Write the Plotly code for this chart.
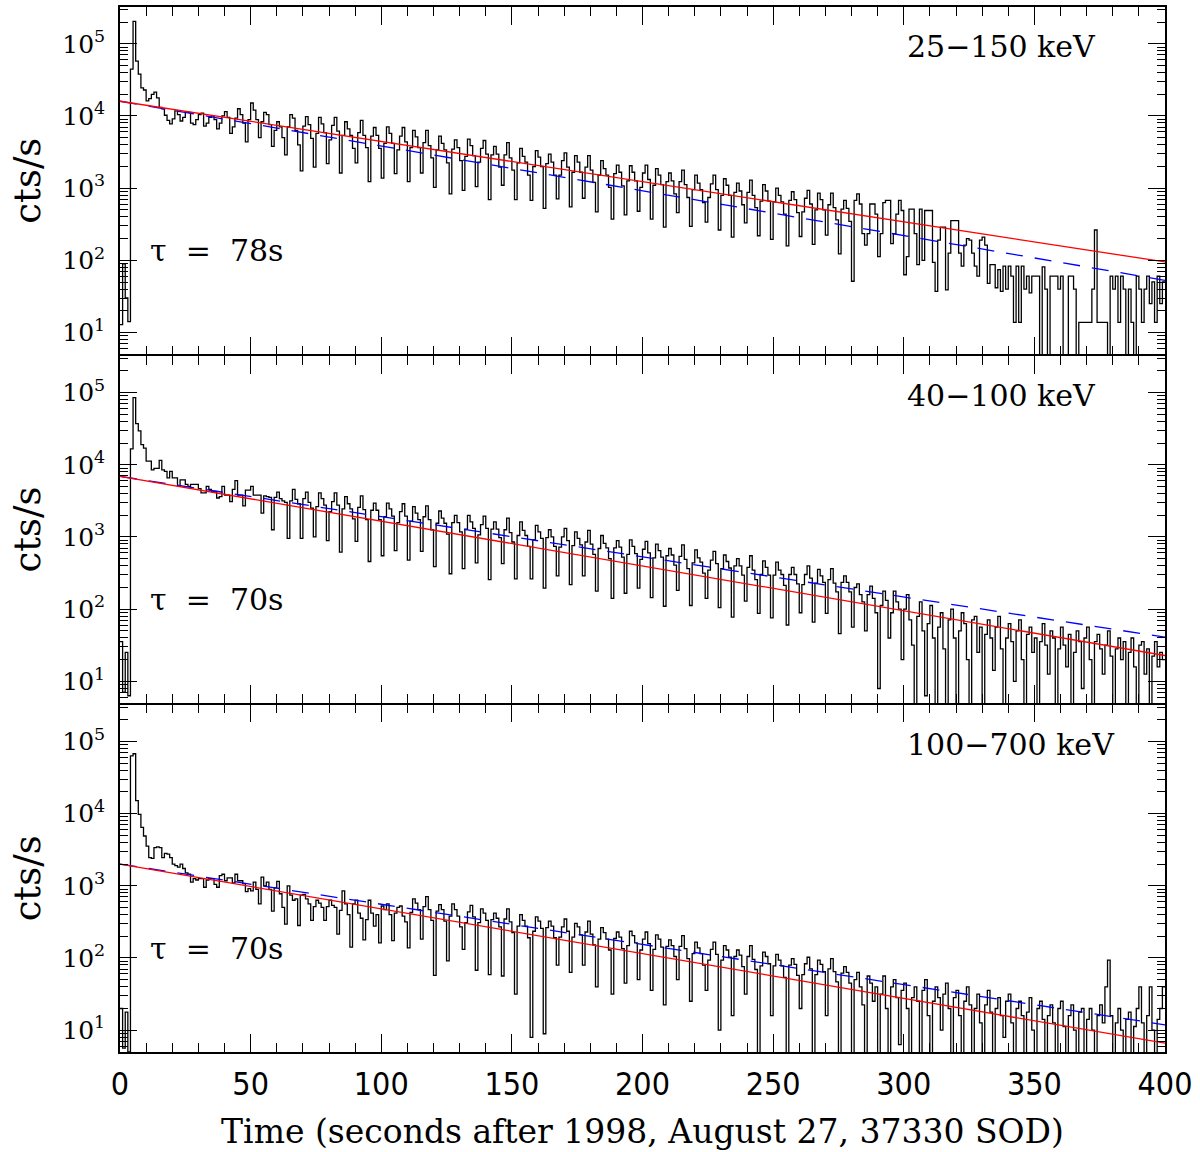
import numpy as np
import plotly.graph_objects as go

# ---------------- data ----------------
band_labels = ["25\u2212150 keV", "40\u2212100 keV", "100\u2212700 keV"]
tau_labels = ["\u03c4  =  78s", "\u03c4  =  70s", "\u03c4  =  70s"]

bin_width_s = 1.0  # histogram bin width in seconds

# log10(cts/s) per 1-s bin, t = 0 .. 399 s
log_rate_25_150 = [
    1.11, 1.95, 1.48, 1.15, 4.65, 5.31, 4.76, 4.58, 4.39, 4.36,
    4.21, 4.24, 4.30, 4.33, 4.25, 4.12, 4.10, 4.01, 3.94, 3.89,
    3.96, 4.07, 4.02, 3.93, 3.98, 4.06, 4.05, 3.90, 3.88, 3.95,
    4.02, 4.04, 3.86, 3.90, 3.98, 4.00, 3.95, 3.82, 3.90, 4.00,
    4.06, 3.98, 3.76, 3.85, 3.97, 4.10, 4.02, 3.90, 3.64, 3.95,
    4.18, 4.08, 3.95, 3.70, 3.92, 4.05, 4.02, 3.88, 3.58, 3.80,
    3.92, 3.85, 3.70, 3.46, 3.85, 4.02, 3.97, 3.80, 3.60, 3.24,
    3.86, 3.99, 3.88, 3.69,
    3.29, 3.76, 3.98, 3.89, 3.77,
    3.34, 3.67, 3.87, 3.98, 3.79,
    3.21, 3.73, 3.92, 3.82, 3.73, 3.55,
    3.35, 3.77, 3.94, 3.73, 3.56,
    3.09, 3.72, 3.84, 3.73, 3.55,
    3.14, 3.62, 3.85, 3.76, 3.62,
    3.20, 3.53, 3.72, 3.84, 3.64,
    3.09, 3.56, 3.80, 3.71, 3.56,
    3.21, 3.63, 3.80, 3.59, 3.42,
    3.01, 3.53, 3.72, 3.62, 3.53, 3.35,
    2.92, 3.54, 3.67, 3.56, 3.38,
    2.97, 3.44, 3.68, 3.59, 3.45,
    3.02, 3.36, 3.55, 3.66, 3.47,
    2.84, 3.46, 3.58, 3.47, 3.29,
    3.04, 3.46, 3.63, 3.42, 3.25,
    2.84, 3.35, 3.55, 3.44, 3.36, 3.18,
    2.83, 3.30, 3.52, 3.43, 3.30,
    2.72, 3.34, 3.47, 3.36, 3.18,
    2.85, 3.18, 3.38, 3.49, 3.29,
    2.74, 3.22, 3.45, 3.36, 3.22,
    2.86, 3.29, 3.45, 3.25, 3.08,
    2.67, 3.18, 3.38, 3.27, 3.18, 3.01,
    2.57, 3.20, 3.32, 3.22, 3.03,
    2.63, 3.10, 3.31, 3.22, 3.10,
    2.68, 3.01, 3.21, 3.32, 3.12,
    2.57, 3.04, 3.27, 3.18, 3.05,
    2.46, 3.09, 3.21, 3.10, 2.92,
    2.66, 3.09, 3.25, 3.05, 2.87,
    2.47, 2.98, 3.18, 3.07, 2.98, 2.80,
    2.53, 2.87, 3.06, 3.18, 2.98,
    2.42, 2.90, 3.13, 3.04, 2.90,
    2.32, 2.94, 3.07, 2.96, 2.77,
    2.52, 2.94, 3.11, 2.90, 2.73,
    2.34, 2.82, 3.05, 2.96, 2.82,
    2.29, 2.81, 3.00, 2.90, 2.81, 2.64,
    2.20, 2.83, 2.95, 2.84, 2.66,
    2.33, 2.67, 2.86, 2.97, 2.78,
    2.22, 2.70, 2.93, 2.84, 2.70,
    2.35, 2.77, 2.93, 2.73, 2.56,
    2.09, 2.71, 2.83, 2.72, 2.54,
    1.71, 2.83, 2.92, 2.78, 2.37, 2.21, 2.37, 2.78, 2.78, 2.64,
    2.05, 2.37, 2.80, 2.83, 2.83, 2.23, 2.37, 2.64, 2.83, 2.69,
    1.80, 2.05, 2.71, 2.71, 2.37, 1.94, 2.71, 2.00, 2.69, 2.69,
    2.69, 1.97, 1.57, 2.28, 2.46, 2.46, 1.59, 2.10, 2.55, 2.55,
    2.55, 2.10, 1.92, 2.21, 2.30, 2.28, 2.10, 1.92, 1.78, 2.28,
    2.32, 2.21, 1.68, 1.94, 1.94, 1.62, 1.87, 1.57, 1.92, 1.60,
    1.92, 1.78, 1.14, 1.92, 1.14, 1.92, 1.60, 1.78, 1.55, 1.78,
    1.78, 1.78, 0.40, 1.91, 1.60, 0.40, 1.78, 1.78, 1.78, 1.60,
    1.78, 0.40, 0.40, 1.78, 1.78, 1.60, 0.40, 1.14, 1.14, 1.14,
    1.14, 1.14, 1.60, 2.42, 1.14, 1.14, 1.14, 1.14, 0.40, 1.78,
    1.60, 1.78, 1.14, 1.78, 1.60, 0.40, 1.60, 1.14, 0.40, 1.78,
    1.60, 1.14, 1.60, 1.78, 1.40, 1.70, 1.14, 1.78, 1.40, 1.70,
]

log_rate_40_100 = [
    1.55, 0.85, 1.40, 0.80, 4.22, 4.93, 4.57, 4.47, 4.28, 4.23,
    4.05, 4.05, 3.93, 3.95, 3.95, 4.06, 3.93, 3.91, 3.82, 3.91,
    3.82, 3.82, 3.71, 3.79, 3.79, 3.73, 3.70, 3.73, 3.73, 3.73,
    3.67, 3.61, 3.61, 3.70, 3.66, 3.63, 3.63, 3.54, 3.56, 3.70,
    3.58, 3.58, 3.49, 3.66, 3.78, 3.58, 3.58, 3.43, 3.65, 3.65,
    3.70, 3.58, 3.58, 3.58, 3.33, 3.57, 3.56, 3.55, 3.10, 3.55,
    3.62, 3.53, 3.50, 3.48, 2.98, 3.50, 3.66, 3.52, 3.46, 2.98,
    3.53, 3.62, 3.48, 3.40,
    3.00, 3.42, 3.61, 3.53, 3.44,
    2.95, 3.35, 3.49, 3.61, 3.44,
    2.79, 3.39, 3.56, 3.46, 3.39, 3.25,
    2.94, 3.41, 3.57, 3.38, 3.24,
    2.66, 3.37, 3.47, 3.37, 3.24,
    2.74, 3.28, 3.47, 3.39, 3.29,
    2.81, 3.20, 3.35, 3.46, 3.29,
    2.68, 3.22, 3.42, 3.33, 3.24,
    2.80, 3.28, 3.43, 3.24, 3.10,
    2.59, 3.19, 3.36, 3.26, 3.19, 3.04,
    2.49, 3.20, 3.30, 3.20, 3.07,
    2.56, 3.11, 3.30, 3.21, 3.12,
    2.64, 3.03, 3.17, 3.29, 3.12,
    2.41, 3.11, 3.21, 3.11, 2.99,
    2.63, 3.10, 3.26, 3.06, 2.93,
    2.42, 3.02, 3.21, 3.09, 3.02, 2.87,
    2.42, 2.96, 3.16, 3.07, 2.98,
    2.29, 2.99, 3.10, 3.00, 2.87,
    2.46, 2.86, 3.00, 3.12, 2.95,
    2.34, 2.88, 3.07, 2.98, 2.89,
    2.46, 2.93, 3.09, 2.90, 2.76,
    2.25, 2.84, 3.02, 2.91, 2.85, 2.70,
    2.15, 2.85, 2.95, 2.86, 2.72,
    2.22, 2.76, 2.96, 2.87, 2.77,
    2.29, 2.69, 2.83, 2.94, 2.78,
    2.16, 2.71, 2.90, 2.81, 2.72,
    2.04, 2.74, 2.84, 2.75, 2.61,
    2.26, 2.73, 2.89, 2.69, 2.56,
    2.05, 2.64, 2.82, 2.71, 2.65, 2.50,
    2.15, 2.54, 2.68, 2.80, 2.63,
    2.02, 2.56, 2.75, 2.66, 2.57,
    1.89, 2.60, 2.70, 2.60, 2.47,
    2.11, 2.58, 2.74, 2.54, 2.41,
    1.94, 2.48, 2.67, 2.58, 2.47,
    1.88, 2.47, 2.65, 2.54, 2.48, 2.33,
    1.78, 2.48, 2.58, 2.48, 2.35,
    1.95, 2.34, 2.48, 2.60, 2.43,
    1.82, 2.36, 2.55, 2.46, 2.37,
    1.94, 2.41, 2.56, 2.36, 2.24,
    1.66, 2.37, 2.46, 2.37, 2.24,
    1.75, 2.30, 2.35, 2.20, 2.10, 1.70, 2.20, 2.32, 2.15, 1.95,
    0.90, 2.05, 2.25, 2.12, 1.60, 1.95, 2.25, 2.10, 2.00, 1.30,
    2.00, 2.20, 1.85, 1.50, 0.50, 1.90, 2.10, 1.70, 0.80, 1.80,
    2.05, 1.60, 0.50, 1.75, 1.95, 1.45, 0.50, 1.85, 2.00, 1.60,
    0.50, 1.70, 1.95, 1.80, 1.30, 0.50, 1.85, 1.90, 1.40, 1.75,
    0.50, 1.65, 1.85, 1.60, 1.15, 1.75, 1.90, 1.45, 0.50, 1.60,
    1.80, 1.55, 1.00, 1.70, 1.85, 1.30, 0.50, 1.65, 1.75, 1.40,
    1.60, 0.50, 1.55, 1.80, 1.50, 1.10, 1.70, 1.60, 0.50, 1.45,
    1.75, 1.50, 1.20, 1.65, 0.50, 1.40, 1.70, 1.55, 0.90, 1.60,
    1.75, 1.30, 0.50, 1.55, 1.65, 1.45, 1.10, 1.50, 1.70, 1.35,
    0.50, 1.45, 1.60, 1.30, 1.55, 0.50, 1.40, 1.60, 1.20, 0.50,
    1.50, 1.55, 1.10, 1.45, 0.50, 1.35, 1.55, 1.20, 1.40, 1.30,
]

log_rate_100_700 = [
    1.30, 0.75, 1.25, 0.70, 4.80, 4.83, 4.18, 3.99, 3.81, 3.69,
    3.55, 3.39, 3.38, 3.53, 3.54, 3.53, 3.39, 3.45, 3.44, 3.39,
    3.30, 3.28, 3.26, 3.30, 3.24, 3.18, 3.16, 3.05, 3.10, 3.08,
    3.10, 3.10, 2.98, 3.08, 3.10, 3.10, 3.02, 2.98, 3.14, 3.16,
    3.07, 3.11, 3.11, 3.04, 3.16, 3.07, 3.07, 3.03, 2.92, 2.96,
    2.93, 3.05, 2.95, 2.75, 3.12, 3.00, 3.05, 2.95, 2.65, 2.97,
    3.06, 2.89, 2.70, 2.47, 3.00, 2.87, 2.80, 2.82, 2.45, 2.87,
    2.88, 2.82, 2.75, 2.52, 2.71, 2.80, 2.76, 2.70, 2.52, 2.71,
    2.80, 2.73, 2.70, 2.33, 2.66, 2.93, 2.75, 2.60, 2.15, 2.75,
    2.80, 2.62, 2.55, 2.25, 2.53, 2.80, 2.62, 2.44, 2.60, 2.21,
    2.72, 2.67, 2.75, 2.60, 2.24, 2.62, 2.70, 2.72, 2.58, 2.50,
    2.14, 2.63, 2.82, 2.76, 2.67,
    2.26, 2.71, 2.85, 2.67, 2.52,
    1.76, 2.65, 2.74, 2.67, 2.51,
    1.96, 2.58, 2.75, 2.67, 2.58, 2.43,
    2.12, 2.49, 2.64, 2.73, 2.57,
    1.83, 2.49, 2.68, 2.62, 2.52,
    1.77, 2.53, 2.62, 2.55, 2.43,
    1.75, 2.54, 2.68, 2.50, 2.35,
    1.50, 2.44, 2.60, 2.52, 2.44, 2.28,
    0.90, 2.37, 2.57, 2.51, 2.41,
    0.95, 2.42, 2.51, 2.44, 2.28,
    1.90, 2.29, 2.43, 2.54, 2.37,
    1.80, 2.29, 2.48, 2.43, 2.32,
    1.90, 2.36, 2.51, 2.33, 2.18,
    1.60, 2.26, 2.42, 2.35, 2.26, 2.11,
    1.50, 2.27, 2.36, 2.29, 2.13,
    1.65, 2.17, 2.37, 2.31, 2.21,
    1.70, 2.11, 2.26, 2.36, 2.20,
    1.55, 2.12, 2.32, 2.26, 2.15,
    1.35, 2.16, 2.25, 2.17, 2.02,
    1.70, 2.16, 2.31, 2.13, 1.99,
    1.40, 2.06, 2.22, 2.14, 2.06, 1.90,
    1.55, 1.97, 2.12, 2.22, 2.05,
    1.00, 1.97, 2.17, 2.11, 2.01,
    1.20, 2.02, 2.11, 2.04, 1.88,
    1.50, 2.02, 2.17, 1.98, 1.84,
    0.50, 1.89, 2.08, 2.02, 1.92,
    1.20, 1.89, 2.05, 1.97, 1.89, 1.73,
    0.50, 1.90, 1.99, 1.91, 1.76,
    1.30, 1.77, 1.92, 2.01, 1.85,
    0.50, 1.77, 1.97, 1.91, 1.81,
    1.20, 1.85, 1.99, 1.81, 1.67,
    0.50, 1.79, 1.88, 1.80, 1.65,
    0.50, 1.70, 1.80, 1.60, 1.35, 0.50, 1.75, 1.65, 1.40, 1.60,
    0.50, 1.50, 1.75, 1.30, 0.50, 1.60, 1.70, 1.45, 0.80, 1.55,
    1.65, 1.30, 0.50, 1.45, 1.60, 1.40, 0.50, 1.55, 1.70, 1.20,
    0.50, 1.40, 1.60, 1.45, 1.00, 1.50, 1.65, 1.30, 0.50, 1.45,
    1.55, 1.20, 0.50, 1.40, 1.60, 1.35, 0.50, 1.30, 1.50, 1.10,
    0.50, 1.35, 1.55, 1.25, 0.50, 1.30, 1.45, 1.20, 0.90, 1.40,
    1.50, 1.10, 0.50, 1.30, 1.40, 1.20, 0.50, 1.25, 1.45, 1.00,
    0.50, 1.30, 1.40, 1.15, 0.50, 1.20, 1.35, 1.10, 0.50, 1.30,
    1.40, 1.05, 0.50, 1.20, 1.35, 1.00, 0.50, 1.25, 1.30, 0.50,
    1.15, 1.30, 1.00, 0.50, 1.20, 1.35, 1.10, 1.60, 1.97, 1.20,
    0.50, 1.10, 1.30, 1.00, 0.50, 1.15, 1.25, 0.50, 1.05, 1.30,
    1.60, 1.10, 0.50, 1.20, 1.60, 1.00, 0.50, 1.15, 1.30, 1.60,
]

# exponential decay fits: rate = norm * exp(-t / tau)
fit_norm = [1.6e4, 6.9e3, 2.0e3]
tau_red = [78.0, 70.0, 70.0]
tau_blue = [70.0, 78.0, 78.0]
fit_t = [0.0, 400.0]

x_tickvals = [0, 50, 100, 150, 200, 250, 300, 350, 400]
y_tickvals = [1e1, 1e2, 1e3, 1e4, 1e5]
y_ticktext = ["10<sup>1</sup>", "10<sup>2</sup>", "10<sup>3</sup>",
              "10<sup>4</sup>", "10<sup>5</sup>"]

panels = [log_rate_25_150, log_rate_40_100, log_rate_100_700]
for p in panels:
    assert len(p) == 400, len(p)

# ---------------- figure ----------------
SERIF = "DejaVu Serif, Liberation Serif, serif"
SANS_N = "Liberation Sans Narrow, DejaVu Sans Condensed, Liberation Sans, sans-serif"

PLOT_H = 1152 - 5 - 100
gap = 1.5 / PLOT_H          # lets shared panel borders coincide
h = (1.0 - 2 * gap) / 3.0
domains = [[2 * h + 2 * gap, 1.0], [h + gap, 2 * h + gap], [0.0, h]]

fig = go.Figure()
layout_axes = {}
for i, logr in enumerate(panels):
    k = i + 1
    xa = "x" if k == 1 else f"x{k}"
    ya = "y" if k == 1 else f"y{k}"
    rates = list(10.0 ** np.array(logr))
    edges = list(np.arange(len(rates) + 1) * bin_width_s)
    fig.add_trace(go.Scatter(
        x=edges, y=rates + [rates[-1]], mode="lines", line_shape="hv",
        line=dict(color="black", width=1.3), showlegend=False,
        hoverinfo="skip", xaxis=xa, yaxis=ya))
    red_y = [fit_norm[i] * np.exp(-t / tau_red[i]) for t in fit_t]
    blue_y = [fit_norm[i] * np.exp(-t / tau_blue[i]) for t in fit_t]
    fig.add_trace(go.Scatter(
        x=fit_t, y=blue_y, mode="lines",
        line=dict(color="#0000ff", width=1.3, dash="17px,12px"),
        showlegend=False, hoverinfo="skip", xaxis=xa, yaxis=ya))
    fig.add_trace(go.Scatter(
        x=fit_t, y=red_y, mode="lines",
        line=dict(color="#ff0000", width=1.3),
        showlegend=False, hoverinfo="skip", xaxis=xa, yaxis=ya))

    fig.add_annotation(x=0.751, y=0.885, xref=f"{xa} domain",
                       yref=f"{ya} domain", text=band_labels[i],
                       showarrow=False, xanchor="left", yanchor="middle",
                       font=dict(family=SERIF, size=30, color="black"))
    fig.add_annotation(x=0.027, y=0.298, xref=f"{xa} domain",
                       yref=f"{ya} domain", text=tau_labels[i],
                       showarrow=False, xanchor="left", yanchor="middle",
                       font=dict(family=SERIF, size=30, color="black"))

    xkey = "xaxis" if k == 1 else f"xaxis{k}"
    ykey = "yaxis" if k == 1 else f"yaxis{k}"
    layout_axes[ykey] = dict(
        domain=domains[i], anchor=xa,
        type="log", range=[0.697, 5.51],
        tickmode="array", tickvals=y_tickvals, ticktext=y_ticktext,
        ticks="inside", ticklen=17, tickwidth=1.3, tickcolor="black",
        minor=dict(ticks="inside", ticklen=8, tickwidth=1.3,
                   tickcolor="black", dtick="D1", showgrid=False),
        showline=True, linecolor="black", linewidth=1.5, mirror="ticks",
        showgrid=False, zeroline=False,
        tickfont=dict(family=SERIF, size=25, color="black"),
        ticklabelstandoff=8,
        title=dict(text="cts/s", font=dict(family=SERIF, size=37, color="black"),
                   standoff=10))
    xdict = dict(
        domain=[0.0, 1.0], anchor=ya,
        range=[0, 400], tickmode="array", tickvals=x_tickvals,
        ticks="inside", ticklen=18, tickwidth=1.3, tickcolor="black",
        minor=dict(ticks="inside", ticklen=9, tickwidth=1.3,
                   tickcolor="black", dtick=10, tick0=0, showgrid=False),
        showline=True, linecolor="black", linewidth=1.5, mirror="ticks",
        showgrid=False, zeroline=False,
        showticklabels=(k == 3),
        tickfont=dict(family=SANS_N, size=32, color="black"),
        ticklabelstandoff=3)
    if k != 3:
        xdict["matches"] = "x3"
    else:
        xdict["title"] = dict(
            text="Time (seconds after 1998, August 27, 37330 SOD)",
            font=dict(family=SERIF, size=33, color="black"), standoff=18)
    layout_axes[xkey] = xdict

fig.update_layout(
    width=1200, height=1152,
    margin=dict(l=120, r=35, t=5, b=100),
    paper_bgcolor="white", plot_bgcolor="white",
    showlegend=False,
    **layout_axes,
)

fig.write_html("out.html")
